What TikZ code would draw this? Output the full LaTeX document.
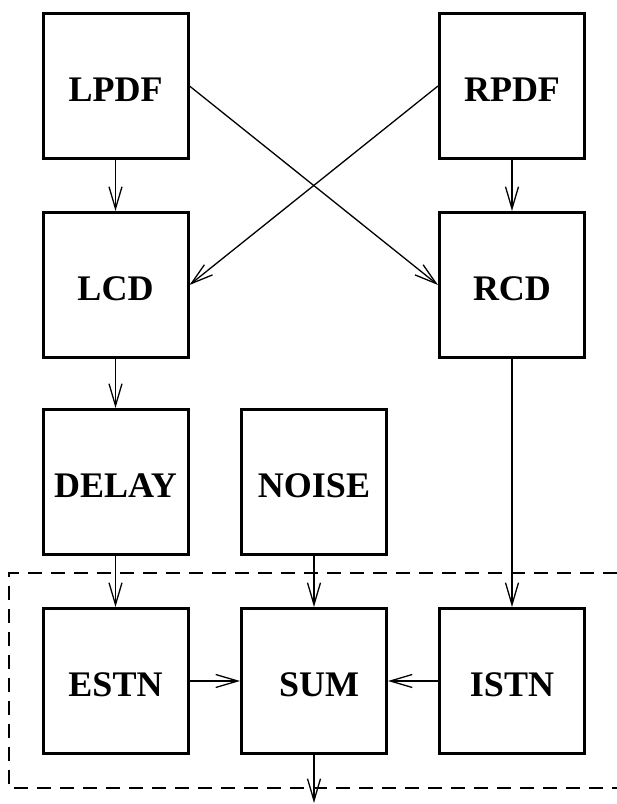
\documentclass[tikz,border=0pt]{standalone}
\usepackage{fontspec}
\setmainfont{Liberation Serif}
\usetikzlibrary{arrows.meta}
\begin{document}
\begin{tikzpicture}[x=1pt,y=1pt,
  blk/.style={draw,line width=3pt,minimum width=145pt,minimum height=145pt,
    inner sep=0pt,font=\bfseries\fontsize{36}{40}\selectfont,text height=32pt,text depth=0pt},
  conn/.style={line width=1.3pt,-{Straight Barb[length=22pt,width=13pt,line width=1.3pt]}},
  frame/.style={line width=1.3pt,dash pattern=on 14pt off 9pt}]
\useasboundingbox (0,0) rectangle (617,804);
\node[blk] (lpdf) at (115.5,718) {LPDF};
\node[blk] (rpdf) at (512,718) {RPDF};
\node[blk] (lcd) at (115.5,519) {LCD};
\node[blk] (rcd) at (512,519) {RCD};
\node[blk] (delay) at (115.5,322) {DELAY};
\node[blk] (noise) at (314,322) {NOISE};
\node[blk] (estn) at (115.5,123) {ESTN};
\node[blk] (sum) at (314,123) {\hspace*{10pt}SUM};
\node[blk] (istn) at (512,123) {ISTN};
\coordinate (out) at (314,1);
\coordinate (ftr) at (617,231);
\coordinate (ftl) at (9,231);
\coordinate (fbl) at (9,16);
\coordinate (fbr) at (617,16);
\draw[frame] (ftr) -- (ftl) -- (fbl) -- (fbr);
\draw[conn] (lpdf) -- (lcd);
\draw[conn] (rpdf) -- (rcd);
\draw[conn] (lpdf.east) -- (rcd.west);
\draw[conn] (rpdf.west) -- (lcd.east);
\draw[conn] (lcd) -- (delay);
\draw[conn] (delay) -- (estn);
\draw[conn] (noise) -- (sum);
\draw[conn] (rcd) -- (istn);
\draw[conn] (estn) -- (sum);
\draw[conn] (istn) -- (sum);
\draw[conn] (sum) -- (out);
\end{tikzpicture}
\end{document}
